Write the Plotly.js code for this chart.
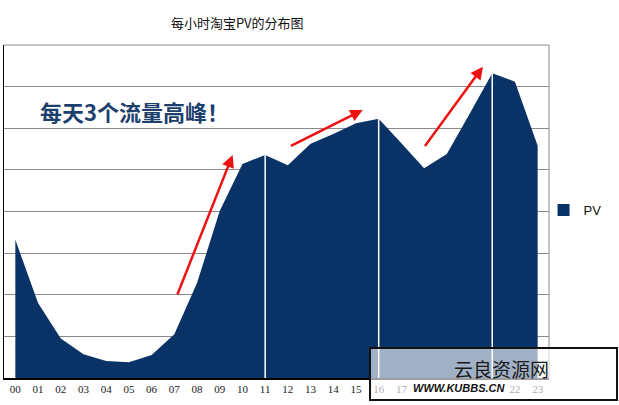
<!DOCTYPE html>
<html>
<head>
<meta charset="utf-8">
<script src="https://cdn.plot.ly/plotly-3.0.1.min.js"></script>
<style>html,body{margin:0;padding:0;background:#fff;}#chart{width:619px;height:405px;}</style>
</head>
<body>
<div id="chart"></div>
<script>
var hours = ['00','01','02','03','04','05','06','07','08','09','10','11','12','13','14','15','16','17','18','19','20','21','22','23'];
var pv = [3.32,1.80,0.95,0.57,0.41,0.38,0.55,1.05,2.28,4.01,5.14,5.36,5.11,5.63,5.86,6.12,6.23,5.64,5.04,5.38,6.34,7.32,7.12,5.58];
var seriesName = 'PV';
var chartTitle = '每小时淘宝PV的分布图';
var noteText = '每天3个流量高峰！';
var dividerHours = [11, 16, 21];
var navy = '#093366';

var traces = [
  {x: hours, y: pv, type: 'scatter', mode: 'none', fill: 'tozeroy', fillcolor: navy,
   name: seriesName, showlegend: false, hoverinfo: 'x+y'},
  // legend swatch only (no visible bar: its value is empty)
  {x: [hours[0]], y: [null], type: 'bar', name: seriesName, marker: {color: navy}, showlegend: true, hoverinfo: 'skip'}
];

var shapes = [
  {type: 'line', xref: 'paper', yref: 'paper', x0: 1, x1: 1, y0: 0, y1: 1, line: {color: '#8a8a8a', width: 1}, layer: 'below'},
  {type: 'line', xref: 'paper', yref: 'paper', x0: 0, x1: 1, y0: 1, y1: 1, line: {color: '#8a8a8a', width: 1}, layer: 'below'}
];
dividerHours.forEach(function(h){
  shapes.push({type: 'line', xref: 'x', yref: 'y', x0: h, x1: h, y0: 0, y1: pv[h], line: {color: '#ffffff', width: 1.5}, layer: 'above'});
});
// watermark box
shapes.push({type: 'rect', xref: 'paper', yref: 'paper', x0: 0.6716, x1: 1.1248, y0: -0.066, y1: 0.090,
  fillcolor: 'rgba(255,255,255,0.62)', line: {color: '#111', width: 2}, layer: 'above'});

var arrows = [
  {tail: [7.11, 1.97], head: [9.57, 5.36]},
  {tail: [12.07, 5.56], head: [15.3, 6.44]},
  {tail: [17.99, 5.54], head: [20.59, 7.48]}
];
var annotations = arrows.map(function(a){
  return {x: a.head[0], y: a.head[1], ax: a.tail[0], ay: a.tail[1], xref: 'x', yref: 'y', axref: 'x', ayref: 'y',
    text: '', showarrow: true, arrowhead: 2, arrowsize: 1, arrowwidth: 2.5, arrowcolor: '#ee1111'};
});
annotations.push({xref: 'paper', yref: 'paper', x: 0.240, y: 0.803, text: noteText, showarrow: false,
  font: {family: 'Noto Sans CJK SC', size: 22, color: '#1d3f6e', weight: 'bold'}, xanchor: 'center', yanchor: 'middle'});
annotations.push({xref: 'paper', yref: 'paper', x: 0.912, y: 0.030, text: '云良资源网', showarrow: false,
  font: {family: 'Noto Sans CJK SC', size: 19, color: '#1a1a1a'}, xanchor: 'center', yanchor: 'middle'});
annotations.push({xref: 'paper', yref: 'paper', x: 0.835, y: -0.030, text: '<b><i>WWW.KUBBS.CN</i></b>', showarrow: false,
  bgcolor: 'rgba(255,255,255,0.9)', borderpad: 1,
  font: {family: 'Liberation Sans', size: 11, color: '#111'}, xanchor: 'center', yanchor: 'middle'});

var layout = {
  width: 619, height: 405,
  margin: {l: 4, r: 70, t: 45, b: 27},
  paper_bgcolor: '#ffffff', plot_bgcolor: '#ffffff',
  title: {text: chartTitle, x: 0.428, xref: 'paper', xanchor: 'center', y: 0.943, yref: 'container', yanchor: 'middle',
    font: {family: 'Noto Sans CJK SC', size: 13, color: '#111'}},
  xaxis: {type: 'category', range: [-0.5, 23.5], showgrid: false, zeroline: false, showline: true, linecolor: '#000', linewidth: 1.5,
    ticks: '', tickfont: {family: 'Liberation Serif', size: 11, color: '#222'}, fixedrange: true},
  yaxis: {range: [0, 8], dtick: 1, showgrid: true, gridcolor: '#8a8a8a', gridwidth: 1, zeroline: false, showline: true,
    linecolor: '#000', linewidth: 1.5, showticklabels: false, ticks: '', fixedrange: true},
  showlegend: true,
  legend: {x: 0.99, xanchor: 'left', y: 0.504, yanchor: 'middle', bgcolor: 'rgba(0,0,0,0)',
    font: {family: 'Liberation Sans', size: 13, color: '#111'}},
  shapes: shapes,
  annotations: annotations
};

Plotly.newPlot('chart', traces, layout, {displayModeBar: false, staticPlot: true});
</script>
</body>
</html>
